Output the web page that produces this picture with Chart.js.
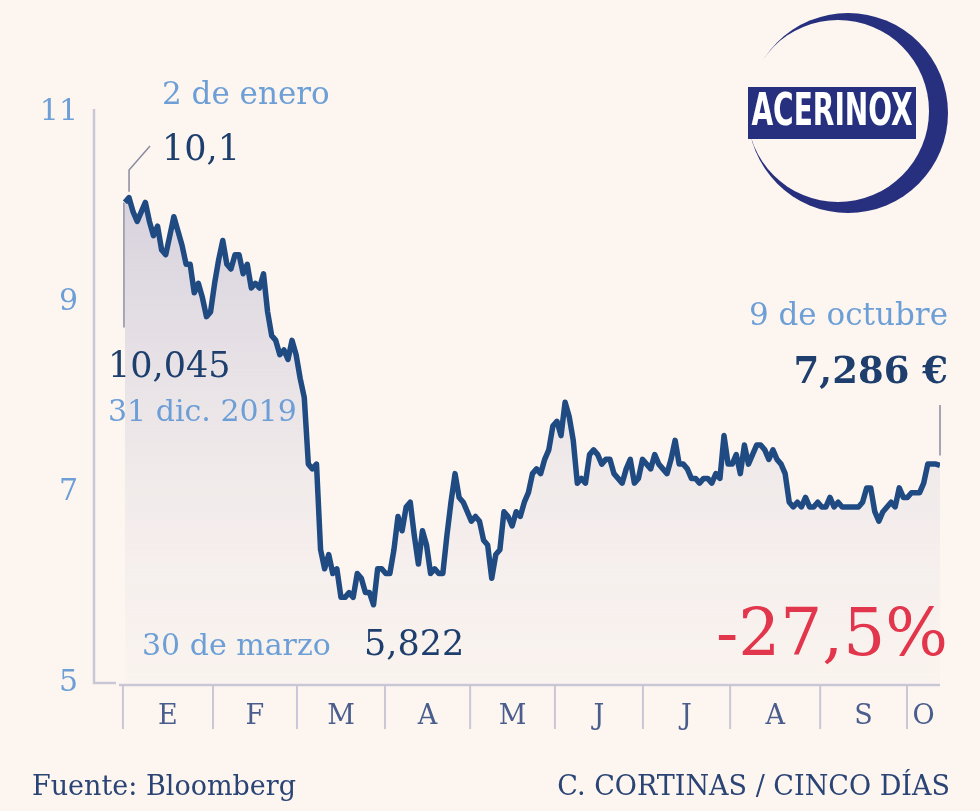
<!DOCTYPE html>
<html><head><meta charset="utf-8">
<script src="https://cdn.jsdelivr.net/npm/chart.js@4"></script>
<style>html,body{margin:0;padding:0;background:#fdf6f0}canvas{display:block}</style>
</head><body><canvas id="c" width="980" height="811"></canvas>
<script>
const prices=[10.05,10.1,9.95,9.85,9.95,10.05,9.85,9.7,9.8,9.55,9.5,9.7,9.9,9.75,9.6,9.4,9.4,9.1,9.2,9.05,8.85,8.9,9.2,9.45,9.65,9.4,9.35,9.5,9.5,9.3,9.4,9.15,9.2,9.15,9.3,8.9,8.65,8.6,8.45,8.5,8.4,8.6,8.45,8.2,8.0,7.3,7.25,7.3,6.4,6.2,6.35,6.15,6.2,5.9,5.9,5.95,5.9,6.15,6.1,5.95,5.95,5.822,6.2,6.2,6.15,6.15,6.4,6.75,6.6,6.85,6.9,6.55,6.25,6.6,6.45,6.15,6.2,6.15,6.15,6.55,6.9,7.2,6.95,6.9,6.8,6.7,6.75,6.7,6.5,6.45,6.1,6.35,6.4,6.8,6.75,6.65,6.8,6.75,6.9,7.0,7.2,7.25,7.2,7.35,7.45,7.7,7.75,7.6,7.95,7.8,7.55,7.1,7.15,7.1,7.4,7.45,7.4,7.3,7.35,7.35,7.2,7.15,7.1,7.25,7.35,7.1,7.15,7.35,7.3,7.25,7.4,7.3,7.25,7.2,7.35,7.55,7.3,7.3,7.25,7.15,7.15,7.1,7.15,7.15,7.1,7.2,7.15,7.6,7.3,7.3,7.4,7.2,7.5,7.3,7.4,7.5,7.5,7.45,7.35,7.45,7.35,7.3,7.2,6.9,6.85,6.9,6.85,6.95,6.85,6.85,6.9,6.85,6.85,6.95,6.85,6.9,6.85,6.85,6.85,6.85,6.85,6.9,7.05,7.05,6.8,6.7,6.8,6.85,6.9,6.85,7.05,6.95,6.95,7.0,7.0,7.0,7.1,7.3,7.3,7.3,7.286];
const monthLabels=['E','F','M','A','M','J','J','A','S','O'];
const monthBounds=[-0.5,21.6,42.2,63.8,84.7,105.5,127.1,148.5,170.6,191.9,200];
const yTicks=[5,7,9,11];
const SERIF='"DejaVu Serif", serif';
const LB='#6d9fd6', NAVY='#1e3f6e', AX='#c9c6d6';
const pts=prices.map((v,i)=>({x:i,y:v}));
const deco={id:'deco',
 beforeDatasetsDraw(ch){const c=ch.ctx,x=ch.scales.x,y=ch.scales.y;c.save();
  c.strokeStyle=AX;c.lineWidth=2.5;c.beginPath();
  c.moveTo(x.left,y.getPixelForValue(11)-3);c.lineTo(x.left,y.getPixelForValue(5));c.lineTo(x.left+22,y.getPixelForValue(5));c.stroke();
  c.beginPath();c.moveTo(x.getPixelForValue(monthBounds[0])-4,y.getPixelForValue(5)+2);c.lineTo(x.right,y.getPixelForValue(5)+2);c.stroke();
  c.lineWidth=2;
  monthBounds.slice(0,-1).forEach(b=>{const px=x.getPixelForValue(b);c.beginPath();c.moveTo(px,y.bottom+2);c.lineTo(px,y.bottom+46);c.stroke();});
  c.fillStyle=LB;c.font='30px '+SERIF;c.textAlign='right';c.textBaseline='middle';
  yTicks.forEach(t=>c.fillText(String(t),78,y.getPixelForValue(t)));
  c.fillStyle='#4a5d8c';c.font='27px '+SERIF;c.textAlign='center';
  monthLabels.forEach((m,i)=>{const a=x.getPixelForValue(monthBounds[i]),b=x.getPixelForValue(monthBounds[i+1]);c.fillText(m,(a+b)/2,y.bottom+34);});
  c.restore();},
 afterDraw(ch){const c=ch.ctx,x=ch.scales.x,y=ch.scales.y;c.save();
  c.strokeStyle='#8a8aa0';c.lineWidth=1.5;
  let x0=x.getPixelForValue(0),y0=y.getPixelForValue(prices[0]);
  c.beginPath();c.moveTo(x0-1,y0);c.lineTo(x0-1,y0+125);c.stroke();
  let x1=x.getPixelForValue(1);c.beginPath();c.moveTo(x1,y.getPixelForValue(prices[1])-6);c.lineTo(x1,170);c.lineTo(150,146);c.stroke();
  let xl=x.getPixelForValue(prices.length-1),yl=y.getPixelForValue(prices[prices.length-1]);
  c.beginPath();c.moveTo(xl,yl-10);c.lineTo(xl,405);c.stroke();
  c.textBaseline='alphabetic';c.textAlign='left';
  c.fillStyle=LB;c.font='31px '+SERIF;c.fillText('2 de enero',162,104);
  c.fillStyle=NAVY;c.font='35px '+SERIF;c.fillText('10,1',162,160);
  c.fillText('10,045',108,377);
  c.fillStyle=LB;c.font='30px '+SERIF;c.fillText('31 dic. 2019',108,421);
  c.fillText('30 de marzo',142,655);
  c.fillStyle=NAVY;c.font='35px '+SERIF;c.fillText('5,822',364,655);
  c.textAlign='right';c.fillStyle=LB;c.font='31px '+SERIF;c.fillText('9 de octubre',948,325);
  c.fillStyle=NAVY;c.font='bold 37px '+SERIF;c.fillText('7,286 €',948,383);
  c.fillStyle='#e2364c';c.font='66px '+SERIF;c.fillText('-27,5%',948,655);
  c.textAlign='left';c.fillStyle='#2a4475';c.font='27px '+SERIF;c.fillText('Fuente: Bloomberg',32,795);
  c.textAlign='right';c.fillText('C. CORTINAS / CINCO DÍAS',950,795);
  c.fillStyle='#26307e';c.beginPath();c.arc(848,113,100,0,Math.PI*2);c.fill();
  c.fillStyle='#fdf6f0';c.beginPath();c.arc(838,111,91,0,Math.PI*2);c.fill();
  c.fillStyle='#26307e';c.fillRect(748,87,168,52);
  c.fillStyle='#fff';c.textAlign='center';c.textBaseline='middle';c.font='bold 38px "Liberation Sans Narrow","DejaVu Sans Condensed",sans-serif';
  c.save();c.translate(832,114);c.scale(0.82,1.15);c.fillText('ACERINOX',0,0);c.restore();
  c.restore();}
};
new Chart(document.getElementById('c'),{type:'line',
 data:{datasets:[{data:pts,borderColor:'#1f4b82',borderWidth:5.5,pointRadius:0,tension:0,borderJoinStyle:'round',
  fill:'start',backgroundColor(ctx){const a=ctx.chart.chartArea;if(!a)return 'rgba(0,0,0,0)';const g=ctx.chart.ctx.createLinearGradient(0,a.top+80,0,a.bottom);g.addColorStop(0,'rgba(200,196,214,0.75)');g.addColorStop(1,'rgba(240,234,236,0.2)');return g;}}]},
 options:{responsive:false,animation:false,events:[],layout:{padding:{left:94,right:40,top:112,bottom:128}},
  plugins:{legend:{display:false},tooltip:{enabled:false}},
  scales:{x:{type:'linear',min:-7.6,max:200,display:false},y:{min:5,max:11,display:false}}},
 plugins:[deco]});
</script></body></html>
